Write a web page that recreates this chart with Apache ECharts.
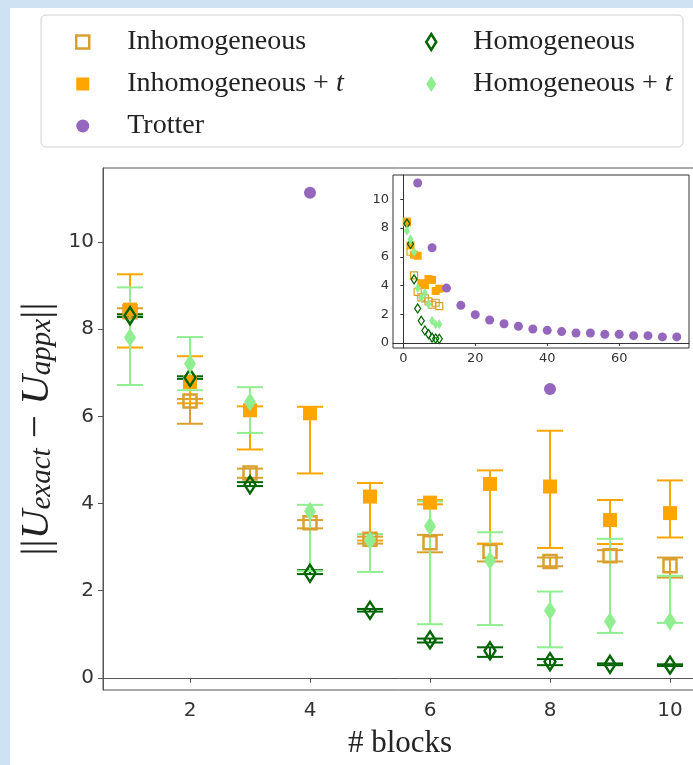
<!DOCTYPE html>
<html>
<head>
<meta charset="utf-8">
<script src="https://cdn.jsdelivr.net/npm/echarts@6/dist/echarts.min.js"></script>
<style>
html, body { margin: 0; padding: 0; }
#chart { width: 693px; height: 765px; }
</style>
</head>
<body>
<div id="chart"></div>
<script>
'use strict';

// blocks on the x axis
var blocks = [1, 2, 3, 4, 5, 6, 7, 8, 9, 10];

var inhom     = [8.40, 6.35, 4.70, 3.56, 3.18, 3.10, 2.90, 2.67, 2.80, 2.57];
var inhomLow  = [8.35, 5.83, 4.59, 3.43, 3.08, 2.88, 2.67, 2.56, 2.67, 2.30];
var inhomHigh = [8.48, 6.40, 4.80, 3.62, 3.24, 3.28, 3.08, 2.76, 2.93, 2.76];

var inhomT     = [8.45, 6.79, 6.14, 6.07, 4.16, 4.02, 4.45, 4.39, 3.62, 3.78];
var inhomTLow  = [7.58, 6.30, 5.24, 4.69, 3.15, 3.98, 3.07, 2.98, 3.07, 3.22];
var inhomTHigh = [9.26, 7.38, 6.23, 6.22, 4.47, 4.08, 4.76, 5.67, 4.08, 4.53];

var hom     = [8.31, 6.89, 4.43, 2.40, 1.55, 0.87, 0.62, 0.37, 0.31, 0.29];
var homLow  = [8.28, 6.86, 4.40, 2.38, 1.52, 0.81, 0.48, 0.29, 0.29, 0.27];
var homHigh = [8.34, 6.92, 4.49, 2.47, 1.58, 0.90, 0.70, 0.43, 0.33, 0.31];

var homT     = [7.81, 7.21, 6.33, 3.82, 3.15, 3.48, 2.69, 1.54, 1.29, 1.30];
var homTLow  = [6.72, 6.60, 5.62, 2.45, 2.43, 1.23, 1.21, 0.70, 1.03, 1.26];
var homTHigh = [8.96, 7.82, 6.67, 3.97, 3.30, 4.05, 3.34, 1.98, 3.19, 2.34];

var trotterX = [4, 8, 12, 16, 20, 24, 28, 32, 36, 40, 44, 48, 52, 56, 60, 64, 68, 72, 76];
var trotterY = [11.13, 6.63, 3.82, 2.62, 1.97, 1.60, 1.34, 1.16, 0.97, 0.88, 0.79, 0.69, 0.69, 0.60, 0.60, 0.51, 0.51, 0.42, 0.42];

var xTicks = [2, 4, 6, 8, 10];
var yTicks = [0, 2, 4, 6, 8, 10];
var insetXTicks = [0, 20, 40, 60];
var insetYTicks = [0, 2, 4, 6, 8, 10];

var C_GOLD = '#d9a030';
var C_ORANGE = '#ffa500';
var C_DGREEN = '#006400';
var C_LGREEN = '#90ee90';
var C_PURPLE = '#9467bd';

var SERIF = 'Liberation Serif';
var SANS = 'DejaVu Sans';

function points(xs, ys) {
    var out = [];
    for (var i = 0; i < xs.length; i++) {
        out.push([xs[i], ys[i]]);
    }
    return out;
}

function errPoints(xs, lo, hi) {
    var out = [];
    for (var i = 0; i < xs.length; i++) {
        out.push([xs[i], lo[i], hi[i]]);
    }
    return out;
}

function renderErrorBar(params, api) {
    var x = api.value(0);
    var low = api.coord([x, api.value(1)]);
    var high = api.coord([x, api.value(2)]);
    var cap = 13;
    var style = {stroke: api.visual('color'), lineWidth: 2};
    return {
        type: 'group',
        children: [
            {type: 'line', shape: {x1: high[0], y1: high[1], x2: low[0], y2: low[1]}, style: style},
            {type: 'line', shape: {x1: high[0] - cap, y1: high[1], x2: high[0] + cap, y2: high[1]}, style: style},
            {type: 'line', shape: {x1: low[0] - cap, y1: low[1], x2: low[0] + cap, y2: low[1]}, style: style}
        ]
    };
}

function errSeries(lo, hi, color) {
    return {
        type: 'custom',
        xAxisIndex: 0,
        yAxisIndex: 0,
        renderItem: renderErrorBar,
        itemStyle: {color: color},
        encode: {x: 0, y: [1, 2]},
        data: errPoints(blocks, lo, hi),
        silent: true,
        z: 2
    };
}

function legendName(name) {
    return name.replace('+ t', '+ {it|t}');
}

var legendText = {
    fontFamily: SERIF,
    fontSize: 28,
    color: '#222',
    lineHeight: 30,
    rich: {
        it: {fontFamily: SERIF, fontSize: 28, fontStyle: 'italic', color: '#222', lineHeight: 30}
    }
};

var axisLineStyle = {show: true, lineStyle: {color: '#555', width: 1}};

var my_chart = echarts.init(document.getElementById('chart'));

my_chart.setOption({
    backgroundColor: '#cfe2f3',
    animation: false,
    graphic: {
        elements: [
            {type: 'rect', z: -10, shape: {x: 10, y: 8, width: 700, height: 770}, style: {fill: '#fff'}},
            {type: 'rect', z: -9, shape: {x: 41, y: 15, width: 642, height: 132, r: 5},
             style: {fill: '#fff', stroke: '#d0d0d0', lineWidth: 1}}
        ]
    },
    legend: [
        {
            orient: 'vertical',
            left: 70,
            top: 22,
            itemWidth: 13,
            itemHeight: 13,
            itemGap: 12,
            textStyle: Object.assign({padding: [0, 0, 0, 33]}, legendText),
            formatter: legendName,
            data: [
                {name: 'Inhomogeneous', icon: 'rect', itemStyle: {color: 'transparent', borderColor: C_GOLD, borderWidth: 2.5}},
                {name: 'Inhomogeneous + t', icon: 'rect', itemStyle: {color: C_ORANGE, borderWidth: 0}},
                {name: 'Trotter', icon: 'circle', itemStyle: {color: C_PURPLE, borderWidth: 0}}
            ]
        },
        {
            orient: 'vertical',
            left: 420,
            top: 22,
            itemWidth: 10,
            itemHeight: 16,
            itemGap: 12,
            symbolKeepAspect: false,
            textStyle: Object.assign({padding: [0, 0, 0, 32]}, legendText),
            formatter: legendName,
            data: [
                {name: 'Homogeneous', icon: 'diamond', itemStyle: {color: 'transparent', borderColor: C_DGREEN, borderWidth: 2.5}},
                {name: 'Homogeneous + t', icon: 'diamond', itemStyle: {color: C_LGREEN, borderWidth: 0}}
            ]
        }
    ],
    grid: [
        {left: 103, top: 168, right: -4, bottom: 75, show: true, borderColor: '#555', borderWidth: 1,
         outerBoundsMode: 'none', containLabel: false},
        {left: 393, top: 175, width: 296, height: 173, show: true, backgroundColor: '#fff',
         borderColor: '#333', borderWidth: 1, outerBoundsMode: 'none', containLabel: false, z: 5}
    ],
    xAxis: [
        {
            gridIndex: 0,
            type: 'value',
            min: 0.55,
            max: 10.45,
            axisLine: axisLineStyle,
            axisTick: {show: true, length: 5, lineStyle: {color: '#555'}, customValues: xTicks},
            axisLabel: {fontFamily: SANS, fontSize: 20, color: '#333', margin: 11, customValues: xTicks},
            splitLine: {show: false},
            name: '# blocks',
            nameLocation: 'middle',
            nameGap: 38,
            nameTextStyle: {fontFamily: SERIF, fontSize: 31, color: '#222'}
        },
        {
            gridIndex: 1,
            type: 'value',
            min: -2.86,
            max: 79.4,
            axisLine: {show: true, lineStyle: {color: '#333'}},
            axisTick: {show: true, length: 3, lineStyle: {color: '#333'}, customValues: insetXTicks},
            axisLabel: {fontFamily: SANS, fontSize: 13, color: '#333', margin: 4, customValues: insetXTicks},
            splitLine: {show: false},
            z: 6
        }
    ],
    yAxis: [
        {
            gridIndex: 0,
            type: 'value',
            min: -0.28,
            max: 11.7,
            axisLine: axisLineStyle,
            axisTick: {show: true, length: 5, lineStyle: {color: '#555'}, customValues: yTicks},
            axisLabel: {fontFamily: SANS, fontSize: 20, color: '#333', margin: 9, customValues: yTicks},
            splitLine: {show: false},
            name: '{n|||}{u|U}{s|exact}{n| \u2212 }{u|U}{s|appx}{n|||}',
            nameLocation: 'middle',
            nameGap: 34,
            nameTextStyle: {
                fontFamily: SERIF,
                fontSize: 41,
                color: '#222',
                rich: {
                    n: {fontFamily: SERIF, fontSize: 41, lineHeight: 40, color: '#222'},
                    u: {fontFamily: SERIF, fontSize: 41, fontStyle: 'italic', lineHeight: 40, color: '#222'},
                    s: {fontFamily: SERIF, fontSize: 29, fontStyle: 'italic', lineHeight: 14,
                        verticalAlign: 'bottom', color: '#222'}
                }
            }
        },
        {
            gridIndex: 1,
            type: 'value',
            min: -0.35,
            max: 11.69,
            axisLine: {show: true, lineStyle: {color: '#333'}},
            axisTick: {show: true, length: 3, lineStyle: {color: '#333'}, customValues: insetYTicks},
            axisLabel: {fontFamily: SANS, fontSize: 13, color: '#333', margin: 4, customValues: insetYTicks},
            splitLine: {show: false},
            z: 6
        }
    ],
    series: [
        errSeries(inhomLow, inhomHigh, C_GOLD),
        {
            name: 'Inhomogeneous', type: 'scatter', xAxisIndex: 0, yAxisIndex: 0,
            symbol: 'rect', symbolSize: 13,
            itemStyle: {color: 'transparent', borderColor: C_GOLD, borderWidth: 2.5, opacity: 1},
            data: points(blocks, inhom), z: 2
        },
        errSeries(inhomTLow, inhomTHigh, C_ORANGE),
        {
            name: 'Inhomogeneous + t', type: 'scatter', xAxisIndex: 0, yAxisIndex: 0,
            symbol: 'rect', symbolSize: 14,
            itemStyle: {color: C_ORANGE, opacity: 1},
            data: points(blocks, inhomT), z: 2
        },
        errSeries(homLow, homHigh, C_DGREEN),
        {
            name: 'Homogeneous', type: 'scatter', xAxisIndex: 0, yAxisIndex: 0,
            symbol: 'diamond', symbolSize: [11, 17],
            itemStyle: {color: 'transparent', borderColor: C_DGREEN, borderWidth: 2.5, opacity: 1},
            data: points(blocks, hom), z: 2
        },
        errSeries(homTLow, homTHigh, C_LGREEN),
        {
            name: 'Homogeneous + t', type: 'scatter', xAxisIndex: 0, yAxisIndex: 0,
            symbol: 'diamond', symbolSize: [12, 19],
            itemStyle: {color: C_LGREEN, opacity: 1},
            data: points(blocks, homT), z: 2
        },
        {
            name: 'Trotter', type: 'scatter', xAxisIndex: 0, yAxisIndex: 0,
            symbol: 'circle', symbolSize: 12,
            itemStyle: {color: C_PURPLE, opacity: 1},
            data: points(trotterX, trotterY), z: 2
        },

        // inset: same data, wider x range
        {
            name: 'Inhomogeneous', type: 'scatter', xAxisIndex: 1, yAxisIndex: 1,
            symbol: 'rect', symbolSize: 7,
            itemStyle: {color: 'transparent', borderColor: C_GOLD, borderWidth: 1.2, opacity: 1},
            data: points(blocks, inhom), z: 7
        },
        {
            name: 'Inhomogeneous + t', type: 'scatter', xAxisIndex: 1, yAxisIndex: 1,
            symbol: 'rect', symbolSize: 8,
            itemStyle: {color: C_ORANGE, opacity: 1},
            data: points(blocks, inhomT), z: 7
        },
        {
            name: 'Homogeneous', type: 'scatter', xAxisIndex: 1, yAxisIndex: 1,
            symbol: 'diamond', symbolSize: [6, 9],
            itemStyle: {color: 'transparent', borderColor: C_DGREEN, borderWidth: 1.3, opacity: 1},
            data: points(blocks, hom), z: 7
        },
        {
            name: 'Homogeneous + t', type: 'scatter', xAxisIndex: 1, yAxisIndex: 1,
            symbol: 'diamond', symbolSize: [6, 10],
            itemStyle: {color: C_LGREEN, opacity: 1},
            data: points(blocks, homT), z: 7
        },
        {
            name: 'Trotter', type: 'scatter', xAxisIndex: 1, yAxisIndex: 1,
            symbol: 'circle', symbolSize: 9,
            itemStyle: {color: C_PURPLE, opacity: 1},
            data: points(trotterX, trotterY), z: 7
        }
    ]
});
</script>
</body>
</html>
